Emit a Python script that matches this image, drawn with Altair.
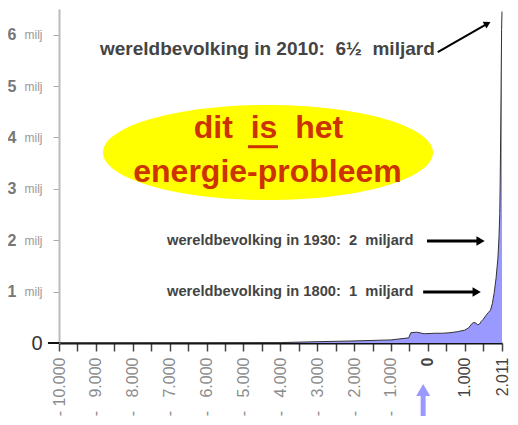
import altair as alt
import pandas as pd

# ---- data ----
years = [-10000, -8000, -6000, -4000, -3000, -2000, -1000, -520, -460, -300, -100,
         200, 400, 600, 800, 1000, 1100, 1200, 1250, 1300, 1350, 1400, 1450, 1500,
         1600, 1650, 1700, 1750, 1800, 1850, 1900, 1930, 1950, 1960, 1970, 1980,
         1990, 2000, 2011]
population = [0.004, 0.005, 0.006, 0.008, 0.025, 0.04, 0.06, 0.1, 0.2, 0.21, 0.18,
              0.19, 0.19, 0.2, 0.22, 0.25, 0.29, 0.38, 0.4, 0.39, 0.35, 0.37, 0.42, 0.46,
              0.56, 0.6, 0.64, 0.77, 0.98, 1.26, 1.65, 2.07, 2.52, 3.02, 3.7, 4.44,
              5.3, 6.1, 6.45]

x_ticks = [-10000, -9500, -9000, -8500, -8000, -7500, -7000, -6500, -6000, -5500,
           -5000, -4500, -4000, -3500, -3000, -2500, -2000, -1500, -1000, -500,
           0, 500, 1000, 1500, 2011]
y_ticks = [0, 1, 2, 3, 4, 5, 6]
y_number_ticks = [1, 2, 3, 4, 5, 6]

gray_texts = ["wereldbevolking in 2010:\u00a0 6½\u00a0 miljard",
              "wereldbevolking in 1930:\u00a0 2\u00a0 miljard",
              "wereldbevolking in 1800:\u00a0 1\u00a0 miljard"]
gray_x = [-8888, -7072, -7072]
gray_y = [5.605, 1.907, 0.915]
gray_size = [19, 14.7, 14.7]

red_texts = ["dit\u00a0\u00a0is\u00a0\u00a0het", "energie-probleem"]
red_x = [-4320, -4347]
red_y = [3.99, 3.14]

ellipse_x = [-4334]
ellipse_y = [3.707]

underline_x = [-4876]
underline_x2 = [-4062]
underline_y = [3.82]

arrow_x = [269, -22, -127]
arrow_x2 = [1618, 1430, 1325]
arrow_y = [5.663, 1.985, 0.993]
arrow_y2 = [6.216, 1.985, 0.993]
arrow_angle = [61, 90, 90]
arrow_head = [60, 90, 90]
arrow_width = [2, 3, 3]

blue_x = [-127]
blue_y = [-1.42]
blue_y2 = [-0.97]
blue_head_y = [-0.915]

zero_tick_x = [-10300]
zero_tick_x2 = [-10000]
zero_tick_y = [0]

FONT = "Liberation Sans"

xscale = alt.Scale(domain=[-10000, 2011], nice=False, zero=False)
yscale = alt.Scale(domain=[0, 6.5], nice=False, zero=False)

label_expr = ("(datum.value % 1000 === 0 || datum.value === 2011) ? "
              "((datum.value < 0 ? (datum.value <= -10000 ? '-\u00a0' : '-\u00a0\u00a0\u00a0') : '') "
              "+ replace(format(abs(datum.value), ','), ',', '.')) : ''")

xaxis = alt.Axis(values=x_ticks, labelExpr=label_expr, labelAngle=270,
                 labelFont=FONT, labelFontSize=16,
                 labelColor={"condition": {"test": "datum.value >= 0", "value": "#444444"}, "value": "#8c8c8c"},
                 labelFontWeight={"condition": {"test": "datum.value === 0", "value": "bold"}, "value": "normal"},
                 labelPadding=6, tickSize=8, tickColor="#444444", tickWidth=1.5,
                 domainColor="#111111", domainWidth=2, grid=False, title=None,
                 labelOverlap=False, labelFlush=False, labelBound=False)

yaxis_a = alt.Axis(orient="left", values=y_ticks,
                   labelExpr="datum.value === 0 ? '0' : 'milj'",
                   labelFont=FONT,
                   labelFontSize={"condition": {"test": "datum.value === 0", "value": 20}, "value": 12},
                   labelColor={"condition": {"test": "datum.value === 0", "value": "#333333"}, "value": "#999999"},
                   labelPadding=11, tickSize=6, tickColor="#aaaaaa", tickWidth=1,
                   domainColor="#bbbbbb", domainWidth=2, grid=False, title=None)

yaxis_b = alt.Axis(orient="left", values=y_number_ticks,
                   labelFont=FONT, labelFontSize=16, labelFontWeight="bold",
                   labelColor="#777777", labelPadding=43, ticks=False, tickSize=0,
                   domain=False, grid=False, title=None)

pop_df = pd.DataFrame({"year": years, "pop": population})

area = alt.Chart(pop_df).mark_area(
    color="#9999ff", opacity=1, line={"color": "#333333", "strokeWidth": 1}
).encode(
    x=alt.X("year:Q", scale=xscale, axis=xaxis),
    y=alt.Y("pop:Q", scale=yscale, axis=yaxis_a),
)

axis_b_layer = alt.Chart(pop_df).mark_line(opacity=0).encode(
    x=alt.X("year:Q", scale=xscale, axis=None),
    y=alt.Y("pop:Q", scale=yscale, axis=yaxis_b),
)

ell_path = "M-1,0 A1,0.288 0 1,1 1,0 A1,0.288 0 1,1 -1,0 Z"
ellipse = alt.Chart(pd.DataFrame({"x": ellipse_x, "y": ellipse_y})).mark_point(
    shape=ell_path, filled=True, color="#ffff00", opacity=1, size=108900, strokeWidth=0
).encode(
    x=alt.X("x:Q", scale=xscale, axis=None),
    y=alt.Y("y:Q", scale=yscale, axis=None),
)

red = alt.Chart(pd.DataFrame({"t": red_texts, "x": red_x, "y": red_y})).mark_text(
    font=FONT, fontWeight="bold", fontSize=32, color="#cc3300",
    align="center", baseline="alphabetic"
).encode(
    x=alt.X("x:Q", scale=xscale, axis=None),
    y=alt.Y("y:Q", scale=yscale, axis=None),
    text="t:N",
)

underline = alt.Chart(pd.DataFrame({"x": underline_x, "x2": underline_x2, "y": underline_y})).mark_rule(
    color="#cc3300", strokeWidth=3
).encode(
    x=alt.X("x:Q", scale=xscale, axis=None), x2="x2:Q",
    y=alt.Y("y:Q", scale=yscale, axis=None),
)

gray = alt.Chart(pd.DataFrame({"t": gray_texts, "x": gray_x, "y": gray_y, "s": gray_size})).mark_text(
    font=FONT, fontWeight="bold", color="#444444", align="left", baseline="alphabetic"
).encode(
    x=alt.X("x:Q", scale=xscale, axis=None),
    y=alt.Y("y:Q", scale=yscale, axis=None),
    size=alt.Size("s:Q", scale=None, legend=None),
    text="t:N",
)

arrow_df = pd.DataFrame({"x": arrow_x, "x2": arrow_x2, "y": arrow_y, "y2": arrow_y2,
                         "a": arrow_angle, "h": arrow_head, "w": arrow_width})
shafts = alt.Chart(arrow_df).mark_rule(color="black").encode(
    x=alt.X("x:Q", scale=xscale, axis=None), x2="x2:Q",
    y=alt.Y("y:Q", scale=yscale, axis=None), y2="y2:Q",
    strokeWidth=alt.StrokeWidth("w:Q", scale=None, legend=None),
)
heads = alt.Chart(arrow_df).mark_point(shape="triangle-up", filled=True, color="black", opacity=1).encode(
    x=alt.X("x2:Q", scale=xscale, axis=None),
    y=alt.Y("y2:Q", scale=yscale, axis=None),
    angle=alt.Angle("a:Q", scale=None),
    size=alt.Size("h:Q", scale=None, legend=None),
)

blue_df = pd.DataFrame({"x": blue_x, "y": blue_y, "y2": blue_y2, "hy": blue_head_y})
blue_shaft = alt.Chart(blue_df).mark_rule(color="#9999ff", strokeWidth=5).encode(
    x=alt.X("x:Q", scale=xscale, axis=None),
    y=alt.Y("y:Q", scale=yscale, axis=None), y2="y2:Q",
)
blue_head = alt.Chart(blue_df).mark_point(shape="triangle-up", filled=True, color="#9999ff",
                                          opacity=1, size=196).encode(
    x=alt.X("x:Q", scale=xscale, axis=None),
    y=alt.Y("hy:Q", scale=yscale, axis=None),
)

zero_tick = alt.Chart(pd.DataFrame({"x": zero_tick_x, "x2": zero_tick_x2, "y": zero_tick_y})).mark_rule(
    color="#111111", strokeWidth=2
).encode(
    x=alt.X("x:Q", scale=xscale, axis=None), x2="x2:Q",
    y=alt.Y("y:Q", scale=yscale, axis=None),
)

chart = alt.layer(
    ellipse, area, axis_b_layer, red, underline, gray, shafts, heads,
    blue_shaft, blue_head, zero_tick
).resolve_axis(x="independent", y="independent").properties(
    width=443, height=334, background="white",
    autosize=alt.AutoSizeParams(type="none"),
    padding={"left": 51, "top": 1, "right": 8, "bottom": 74},
).configure_view(stroke=None)

chart.save("out.html", embed_options={"renderer": "svg", "actions": False})
